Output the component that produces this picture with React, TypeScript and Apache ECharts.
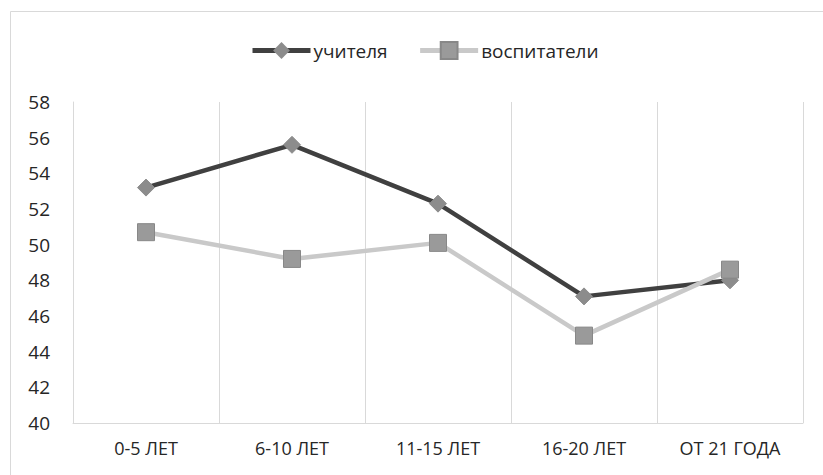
import React, { useEffect, useRef } from "react";
import * as echarts from "echarts";

const categories = ["0-5 ЛЕТ", "6-10 ЛЕТ", "11-15 ЛЕТ", "16-20 ЛЕТ", "ОТ 21 ГОДА"];
const teachers = [53.2, 55.6, 52.3, 47.1, 48.0];
const educators = [50.7, 49.2, 50.1, 44.9, 48.6];
const seriesNames = ["учителя", "воспитатели"];

export default function App() {
  const ref = useRef<HTMLDivElement>(null);
  useEffect(() => {
    const chart = echarts.init(ref.current!, undefined, { renderer: "svg" });
    const font = "'Open Sans', 'Noto Sans', sans-serif";
    chart.setOption({
      animation: false,
      textStyle: { fontFamily: font },
      graphic: [
        {
          type: "rect",
          shape: { x: 10.5, y: 11.5, width: 830, height: 480 },
          style: { fill: "none", stroke: "#d9d9d9", lineWidth: 1 },
          silent: true,
        },
      ],
      legend: {
        top: 36,
        left: 245,
        itemWidth: 58,
        itemHeight: 21,
        itemGap: 30,
        lineStyle: { width: 5 },
        textStyle: { fontSize: 19, color: "#262626", fontFamily: font, padding: [0, 0, 0, -2] },
        data: [seriesNames[0], seriesNames[1]],
      },
      grid: { left: 73, right: 20, top: 102, bottom: 52, containLabel: false },
      xAxis: {
        type: "category",
        data: categories,
        boundaryGap: true,
        axisLine: { show: true, lineStyle: { color: "#d9d9d9", width: 1 } },
        axisTick: { show: false },
        splitLine: { show: true, lineStyle: { color: "#d9d9d9", width: 1 } },
        axisLabel: { fontSize: 18, color: "#262626", margin: 16, fontFamily: font },
      },
      yAxis: {
        type: "value",
        min: 40,
        max: 58,
        interval: 2,
        axisLine: { show: true, lineStyle: { color: "#d9d9d9", width: 1 } },
        axisTick: { show: false },
        splitLine: { show: false },
        axisLabel: { fontSize: 19, color: "#262626", margin: 23, fontFamily: font },
      },
      series: [
        {
          name: seriesNames[0],
          type: "line",
          data: teachers,
          symbol: "diamond",
          symbolSize: 17,
          lineStyle: { color: "#404040", width: 4.5 },
          itemStyle: { color: "#8c8c8c", borderColor: "#8c8c8c" },
          z: 2,
        },
        {
          name: seriesNames[1],
          type: "line",
          data: educators,
          symbol: "rect",
          symbolSize: 17,
          lineStyle: { color: "#c9c9c9", width: 4.5 },
          itemStyle: { color: "#9a9a9a", borderColor: "#888888", borderWidth: 1 },
          z: 3,
        },
      ],
    });
    return () => chart.dispose();
  }, []);
  return <div ref={ref} style={{ width: 823, height: 475, position: "absolute", left: 0, top: 0, background: "#fff" }} />;
}
